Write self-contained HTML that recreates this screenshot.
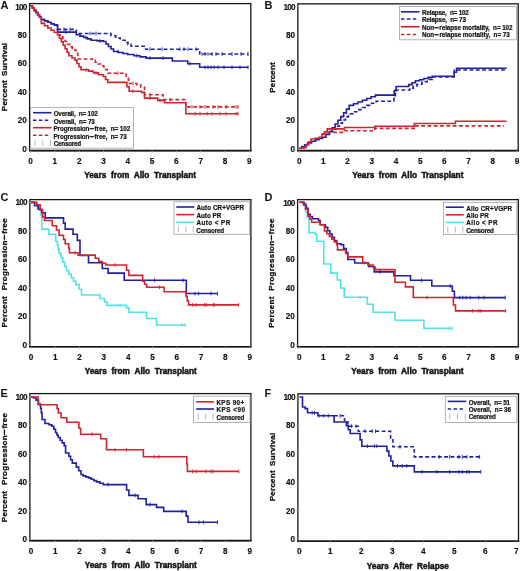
<!DOCTYPE html>
<html><head><meta charset="utf-8"><title>Figure</title>
<style>html,body{margin:0;padding:0;background:#fff;width:520px;height:571px;overflow:hidden}
body{position:relative;font-family:"Liberation Sans", sans-serif}
text{stroke:#111;stroke-width:0.45px}
text.lg{stroke-width:0.2px}
text.tk{stroke-width:0.15px}
text.let{stroke-width:0px}
text.yt{stroke-width:0.3px}</style></head>
<body>
<svg width="520" height="571" viewBox="0 0 520 571" style="position:absolute;left:0;top:0;will-change:transform" font-family="'Liberation Sans', sans-serif" fill="#111">
<rect x="29.6" y="3.6" width="221.20" height="147.00" fill="none" stroke="#161616" stroke-width="1.3"/>
<line x1="28.900000000000002" y1="150.6" x2="251.5" y2="150.6" stroke="#161616" stroke-width="1.6"/>
<text x="0.60" y="8.60" font-size="11" text-anchor="start" font-weight="bold" class="let">A</text>
<text x="26.60" y="151.50" font-size="8.2" text-anchor="end" font-weight="bold" letter-spacing="-0.1" class="tk">0</text>
<line x1="27.6" y1="148.6" x2="29.6" y2="148.6" stroke="#bbb" stroke-width="0.7"/>
<text x="26.60" y="123.10" font-size="8.2" text-anchor="end" font-weight="bold" letter-spacing="-0.1" class="tk">20</text>
<line x1="27.6" y1="120.2" x2="29.6" y2="120.2" stroke="#bbb" stroke-width="0.7"/>
<text x="26.60" y="94.70" font-size="8.2" text-anchor="end" font-weight="bold" letter-spacing="-0.1" class="tk">40</text>
<line x1="27.6" y1="91.8" x2="29.6" y2="91.8" stroke="#bbb" stroke-width="0.7"/>
<text x="26.60" y="66.30" font-size="8.2" text-anchor="end" font-weight="bold" letter-spacing="-0.1" class="tk">60</text>
<line x1="27.6" y1="63.4" x2="29.6" y2="63.4" stroke="#bbb" stroke-width="0.7"/>
<text x="26.60" y="37.90" font-size="8.2" text-anchor="end" font-weight="bold" letter-spacing="-0.1" class="tk">80</text>
<line x1="27.6" y1="35.0" x2="29.6" y2="35.0" stroke="#bbb" stroke-width="0.7"/>
<text x="26.60" y="9.50" font-size="8.2" text-anchor="end" font-weight="bold" letter-spacing="-0.75" class="tk">100</text>
<line x1="27.6" y1="6.6" x2="29.6" y2="6.6" stroke="#bbb" stroke-width="0.7"/>
<text x="30.60" y="163.70" font-size="8.2" text-anchor="middle" font-weight="bold" class="tk">0</text>
<line x1="30.6" y1="150.6" x2="30.6" y2="152.79999999999998" stroke="#bbb" stroke-width="0.7"/>
<text x="54.90" y="163.70" font-size="8.2" text-anchor="middle" font-weight="bold" class="tk">1</text>
<line x1="54.9" y1="150.6" x2="54.9" y2="152.79999999999998" stroke="#bbb" stroke-width="0.7"/>
<text x="79.20" y="163.70" font-size="8.2" text-anchor="middle" font-weight="bold" class="tk">2</text>
<line x1="79.2" y1="150.6" x2="79.2" y2="152.79999999999998" stroke="#bbb" stroke-width="0.7"/>
<text x="103.50" y="163.70" font-size="8.2" text-anchor="middle" font-weight="bold" class="tk">3</text>
<line x1="103.5" y1="150.6" x2="103.5" y2="152.79999999999998" stroke="#bbb" stroke-width="0.7"/>
<text x="127.80" y="163.70" font-size="8.2" text-anchor="middle" font-weight="bold" class="tk">4</text>
<line x1="127.8" y1="150.6" x2="127.8" y2="152.79999999999998" stroke="#bbb" stroke-width="0.7"/>
<text x="152.10" y="163.70" font-size="8.2" text-anchor="middle" font-weight="bold" class="tk">5</text>
<line x1="152.1" y1="150.6" x2="152.1" y2="152.79999999999998" stroke="#bbb" stroke-width="0.7"/>
<text x="176.40" y="163.70" font-size="8.2" text-anchor="middle" font-weight="bold" class="tk">6</text>
<line x1="176.4" y1="150.6" x2="176.4" y2="152.79999999999998" stroke="#bbb" stroke-width="0.7"/>
<text x="200.70" y="163.70" font-size="8.2" text-anchor="middle" font-weight="bold" class="tk">7</text>
<line x1="200.7" y1="150.6" x2="200.7" y2="152.79999999999998" stroke="#bbb" stroke-width="0.7"/>
<text x="225.00" y="163.70" font-size="8.2" text-anchor="middle" font-weight="bold" class="tk">8</text>
<line x1="225.0" y1="150.6" x2="225.0" y2="152.79999999999998" stroke="#bbb" stroke-width="0.7"/>
<text x="249.30" y="163.70" font-size="8.2" text-anchor="middle" font-weight="bold" class="tk">9</text>
<line x1="249.3" y1="150.6" x2="249.3" y2="152.79999999999998" stroke="#bbb" stroke-width="0.7"/>
<text x="84.16" y="178.30" font-size="8.3" font-weight="bold" word-spacing="2.36" letter-spacing="0.00" >Years from Allo Transplant</text>
<text x="-0.23" y="0.00" font-size="8.0" font-weight="bold" word-spacing="1.68" letter-spacing="0.26" class="yt" transform="translate(6.8,111.0) rotate(-90)">Percent Survival</text>
<rect x="297.85" y="3.85" width="220.35" height="146.75" fill="none" stroke="#161616" stroke-width="1.3"/>
<line x1="297.15000000000003" y1="150.6" x2="518.9000000000001" y2="150.6" stroke="#161616" stroke-width="1.6"/>
<text x="264.60" y="8.60" font-size="11" text-anchor="start" font-weight="bold" class="let">B</text>
<text x="294.85" y="151.50" font-size="8.2" text-anchor="end" font-weight="bold" letter-spacing="-0.1" class="tk">0</text>
<line x1="295.85" y1="148.6" x2="297.85" y2="148.6" stroke="#bbb" stroke-width="0.7"/>
<text x="294.85" y="123.10" font-size="8.2" text-anchor="end" font-weight="bold" letter-spacing="-0.1" class="tk">20</text>
<line x1="295.85" y1="120.2" x2="297.85" y2="120.2" stroke="#bbb" stroke-width="0.7"/>
<text x="294.85" y="94.70" font-size="8.2" text-anchor="end" font-weight="bold" letter-spacing="-0.1" class="tk">40</text>
<line x1="295.85" y1="91.8" x2="297.85" y2="91.8" stroke="#bbb" stroke-width="0.7"/>
<text x="294.85" y="66.30" font-size="8.2" text-anchor="end" font-weight="bold" letter-spacing="-0.1" class="tk">60</text>
<line x1="295.85" y1="63.4" x2="297.85" y2="63.4" stroke="#bbb" stroke-width="0.7"/>
<text x="294.85" y="37.90" font-size="8.2" text-anchor="end" font-weight="bold" letter-spacing="-0.1" class="tk">80</text>
<line x1="295.85" y1="35.0" x2="297.85" y2="35.0" stroke="#bbb" stroke-width="0.7"/>
<text x="294.85" y="9.50" font-size="8.2" text-anchor="end" font-weight="bold" letter-spacing="-0.75" class="tk">100</text>
<line x1="295.85" y1="6.6" x2="297.85" y2="6.6" stroke="#bbb" stroke-width="0.7"/>
<text x="299.20" y="163.70" font-size="8.2" text-anchor="middle" font-weight="bold" class="tk">0</text>
<line x1="299.2" y1="150.6" x2="299.2" y2="152.79999999999998" stroke="#bbb" stroke-width="0.7"/>
<text x="323.40" y="163.70" font-size="8.2" text-anchor="middle" font-weight="bold" class="tk">1</text>
<line x1="323.4" y1="150.6" x2="323.4" y2="152.79999999999998" stroke="#bbb" stroke-width="0.7"/>
<text x="347.60" y="163.70" font-size="8.2" text-anchor="middle" font-weight="bold" class="tk">2</text>
<line x1="347.6" y1="150.6" x2="347.6" y2="152.79999999999998" stroke="#bbb" stroke-width="0.7"/>
<text x="371.80" y="163.70" font-size="8.2" text-anchor="middle" font-weight="bold" class="tk">3</text>
<line x1="371.8" y1="150.6" x2="371.8" y2="152.79999999999998" stroke="#bbb" stroke-width="0.7"/>
<text x="396.00" y="163.70" font-size="8.2" text-anchor="middle" font-weight="bold" class="tk">4</text>
<line x1="396.0" y1="150.6" x2="396.0" y2="152.79999999999998" stroke="#bbb" stroke-width="0.7"/>
<text x="420.20" y="163.70" font-size="8.2" text-anchor="middle" font-weight="bold" class="tk">5</text>
<line x1="420.2" y1="150.6" x2="420.2" y2="152.79999999999998" stroke="#bbb" stroke-width="0.7"/>
<text x="444.40" y="163.70" font-size="8.2" text-anchor="middle" font-weight="bold" class="tk">6</text>
<line x1="444.4" y1="150.6" x2="444.4" y2="152.79999999999998" stroke="#bbb" stroke-width="0.7"/>
<text x="468.60" y="163.70" font-size="8.2" text-anchor="middle" font-weight="bold" class="tk">7</text>
<line x1="468.6" y1="150.6" x2="468.6" y2="152.79999999999998" stroke="#bbb" stroke-width="0.7"/>
<text x="492.80" y="163.70" font-size="8.2" text-anchor="middle" font-weight="bold" class="tk">8</text>
<line x1="492.8" y1="150.6" x2="492.8" y2="152.79999999999998" stroke="#bbb" stroke-width="0.7"/>
<text x="517.00" y="163.70" font-size="8.2" text-anchor="middle" font-weight="bold" class="tk">9</text>
<line x1="517.0" y1="150.6" x2="517.0" y2="152.79999999999998" stroke="#bbb" stroke-width="0.7"/>
<text x="352.16" y="178.30" font-size="8.3" font-weight="bold" word-spacing="2.16" letter-spacing="0.00" >Years from Allo Transplant</text>
<text x="-0.23" y="0.00" font-size="8.0" font-weight="bold" letter-spacing="0.18" class="yt" transform="translate(275.1,92.5) rotate(-90)">Percent</text>
<rect x="29.85" y="199.6" width="221.05" height="147.10" fill="none" stroke="#161616" stroke-width="1.3"/>
<line x1="29.150000000000002" y1="346.7" x2="251.6" y2="346.7" stroke="#161616" stroke-width="1.6"/>
<text x="0.60" y="201.20" font-size="11" text-anchor="start" font-weight="bold" class="let">C</text>
<text x="26.85" y="347.50" font-size="8.2" text-anchor="end" font-weight="bold" letter-spacing="-0.1" class="tk">0</text>
<line x1="27.85" y1="344.6" x2="29.85" y2="344.6" stroke="#bbb" stroke-width="0.7"/>
<text x="26.85" y="319.08" font-size="8.2" text-anchor="end" font-weight="bold" letter-spacing="-0.1" class="tk">20</text>
<line x1="27.85" y1="316.2" x2="29.85" y2="316.2" stroke="#bbb" stroke-width="0.7"/>
<text x="26.85" y="290.66" font-size="8.2" text-anchor="end" font-weight="bold" letter-spacing="-0.1" class="tk">40</text>
<line x1="27.85" y1="287.8" x2="29.85" y2="287.8" stroke="#bbb" stroke-width="0.7"/>
<text x="26.85" y="262.24" font-size="8.2" text-anchor="end" font-weight="bold" letter-spacing="-0.1" class="tk">60</text>
<line x1="27.85" y1="259.3" x2="29.85" y2="259.3" stroke="#bbb" stroke-width="0.7"/>
<text x="26.85" y="233.82" font-size="8.2" text-anchor="end" font-weight="bold" letter-spacing="-0.1" class="tk">80</text>
<line x1="27.85" y1="230.9" x2="29.85" y2="230.9" stroke="#bbb" stroke-width="0.7"/>
<text x="26.85" y="205.40" font-size="8.2" text-anchor="end" font-weight="bold" letter-spacing="-0.75" class="tk">100</text>
<line x1="27.85" y1="202.5" x2="29.85" y2="202.5" stroke="#bbb" stroke-width="0.7"/>
<text x="31.00" y="359.80" font-size="8.2" text-anchor="middle" font-weight="bold" class="tk">0</text>
<line x1="31.0" y1="346.7" x2="31.0" y2="348.9" stroke="#bbb" stroke-width="0.7"/>
<text x="55.30" y="359.80" font-size="8.2" text-anchor="middle" font-weight="bold" class="tk">1</text>
<line x1="55.3" y1="346.7" x2="55.3" y2="348.9" stroke="#bbb" stroke-width="0.7"/>
<text x="79.60" y="359.80" font-size="8.2" text-anchor="middle" font-weight="bold" class="tk">2</text>
<line x1="79.6" y1="346.7" x2="79.6" y2="348.9" stroke="#bbb" stroke-width="0.7"/>
<text x="103.90" y="359.80" font-size="8.2" text-anchor="middle" font-weight="bold" class="tk">3</text>
<line x1="103.9" y1="346.7" x2="103.9" y2="348.9" stroke="#bbb" stroke-width="0.7"/>
<text x="128.20" y="359.80" font-size="8.2" text-anchor="middle" font-weight="bold" class="tk">4</text>
<line x1="128.2" y1="346.7" x2="128.2" y2="348.9" stroke="#bbb" stroke-width="0.7"/>
<text x="152.50" y="359.80" font-size="8.2" text-anchor="middle" font-weight="bold" class="tk">5</text>
<line x1="152.5" y1="346.7" x2="152.5" y2="348.9" stroke="#bbb" stroke-width="0.7"/>
<text x="176.80" y="359.80" font-size="8.2" text-anchor="middle" font-weight="bold" class="tk">6</text>
<line x1="176.8" y1="346.7" x2="176.8" y2="348.9" stroke="#bbb" stroke-width="0.7"/>
<text x="201.10" y="359.80" font-size="8.2" text-anchor="middle" font-weight="bold" class="tk">7</text>
<line x1="201.1" y1="346.7" x2="201.1" y2="348.9" stroke="#bbb" stroke-width="0.7"/>
<text x="225.40" y="359.80" font-size="8.2" text-anchor="middle" font-weight="bold" class="tk">8</text>
<line x1="225.4" y1="346.7" x2="225.4" y2="348.9" stroke="#bbb" stroke-width="0.7"/>
<text x="249.70" y="359.80" font-size="8.2" text-anchor="middle" font-weight="bold" class="tk">9</text>
<line x1="249.7" y1="346.7" x2="249.7" y2="348.9" stroke="#bbb" stroke-width="0.7"/>
<text x="84.66" y="374.40" font-size="8.3" font-weight="bold" word-spacing="2.43" letter-spacing="0.00" >Years from Allo Transplant</text>
<text x="-0.23" y="0.00" font-size="8.0" font-weight="bold" word-spacing="3.09" letter-spacing="0.31" class="yt" transform="translate(7.0,327.2) rotate(-90)">Percent Progression<tspan letter-spacing="-3.27">−</tspan>−free</text>
<rect x="297.6" y="199.6" width="220.70" height="147.10" fill="none" stroke="#161616" stroke-width="1.3"/>
<line x1="296.90000000000003" y1="346.7" x2="519.0" y2="346.7" stroke="#161616" stroke-width="1.6"/>
<text x="264.60" y="201.40" font-size="11" text-anchor="start" font-weight="bold" class="let">D</text>
<text x="294.60" y="347.50" font-size="8.2" text-anchor="end" font-weight="bold" letter-spacing="-0.1" class="tk">0</text>
<line x1="295.6" y1="344.6" x2="297.6" y2="344.6" stroke="#bbb" stroke-width="0.7"/>
<text x="294.60" y="319.10" font-size="8.2" text-anchor="end" font-weight="bold" letter-spacing="-0.1" class="tk">20</text>
<line x1="295.6" y1="316.2" x2="297.6" y2="316.2" stroke="#bbb" stroke-width="0.7"/>
<text x="294.60" y="290.70" font-size="8.2" text-anchor="end" font-weight="bold" letter-spacing="-0.1" class="tk">40</text>
<line x1="295.6" y1="287.8" x2="297.6" y2="287.8" stroke="#bbb" stroke-width="0.7"/>
<text x="294.60" y="262.30" font-size="8.2" text-anchor="end" font-weight="bold" letter-spacing="-0.1" class="tk">60</text>
<line x1="295.6" y1="259.4" x2="297.6" y2="259.4" stroke="#bbb" stroke-width="0.7"/>
<text x="294.60" y="233.90" font-size="8.2" text-anchor="end" font-weight="bold" letter-spacing="-0.1" class="tk">80</text>
<line x1="295.6" y1="231.0" x2="297.6" y2="231.0" stroke="#bbb" stroke-width="0.7"/>
<text x="294.60" y="205.50" font-size="8.2" text-anchor="end" font-weight="bold" letter-spacing="-0.75" class="tk">100</text>
<line x1="295.6" y1="202.6" x2="297.6" y2="202.6" stroke="#bbb" stroke-width="0.7"/>
<text x="299.20" y="359.80" font-size="8.2" text-anchor="middle" font-weight="bold" class="tk">0</text>
<line x1="299.2" y1="346.7" x2="299.2" y2="348.9" stroke="#bbb" stroke-width="0.7"/>
<text x="323.40" y="359.80" font-size="8.2" text-anchor="middle" font-weight="bold" class="tk">1</text>
<line x1="323.4" y1="346.7" x2="323.4" y2="348.9" stroke="#bbb" stroke-width="0.7"/>
<text x="347.60" y="359.80" font-size="8.2" text-anchor="middle" font-weight="bold" class="tk">2</text>
<line x1="347.6" y1="346.7" x2="347.6" y2="348.9" stroke="#bbb" stroke-width="0.7"/>
<text x="371.80" y="359.80" font-size="8.2" text-anchor="middle" font-weight="bold" class="tk">3</text>
<line x1="371.8" y1="346.7" x2="371.8" y2="348.9" stroke="#bbb" stroke-width="0.7"/>
<text x="396.00" y="359.80" font-size="8.2" text-anchor="middle" font-weight="bold" class="tk">4</text>
<line x1="396.0" y1="346.7" x2="396.0" y2="348.9" stroke="#bbb" stroke-width="0.7"/>
<text x="420.20" y="359.80" font-size="8.2" text-anchor="middle" font-weight="bold" class="tk">5</text>
<line x1="420.2" y1="346.7" x2="420.2" y2="348.9" stroke="#bbb" stroke-width="0.7"/>
<text x="444.40" y="359.80" font-size="8.2" text-anchor="middle" font-weight="bold" class="tk">6</text>
<line x1="444.4" y1="346.7" x2="444.4" y2="348.9" stroke="#bbb" stroke-width="0.7"/>
<text x="468.60" y="359.80" font-size="8.2" text-anchor="middle" font-weight="bold" class="tk">7</text>
<line x1="468.6" y1="346.7" x2="468.6" y2="348.9" stroke="#bbb" stroke-width="0.7"/>
<text x="492.80" y="359.80" font-size="8.2" text-anchor="middle" font-weight="bold" class="tk">8</text>
<line x1="492.8" y1="346.7" x2="492.8" y2="348.9" stroke="#bbb" stroke-width="0.7"/>
<text x="517.00" y="359.80" font-size="8.2" text-anchor="middle" font-weight="bold" class="tk">9</text>
<line x1="517.0" y1="346.7" x2="517.0" y2="348.9" stroke="#bbb" stroke-width="0.7"/>
<text x="351.36" y="374.40" font-size="8.3" font-weight="bold" word-spacing="2.43" letter-spacing="0.00" >Years from Allo Transplant</text>
<text x="-0.23" y="0.00" font-size="8.0" font-weight="bold" word-spacing="3.09" letter-spacing="0.31" class="yt" transform="translate(274.2,327.6) rotate(-90)">Percent Progression<tspan letter-spacing="-3.27">−</tspan>−free</text>
<rect x="29.9" y="393.6" width="221.00" height="147.05" fill="none" stroke="#161616" stroke-width="1.3"/>
<line x1="29.2" y1="540.65" x2="251.6" y2="540.65" stroke="#161616" stroke-width="1.6"/>
<text x="0.60" y="396.60" font-size="11" text-anchor="start" font-weight="bold" class="let">E</text>
<text x="26.90" y="542.10" font-size="8.2" text-anchor="end" font-weight="bold" letter-spacing="-0.1" class="tk">0</text>
<line x1="27.9" y1="539.2" x2="29.9" y2="539.2" stroke="#bbb" stroke-width="0.7"/>
<text x="26.90" y="513.66" font-size="8.2" text-anchor="end" font-weight="bold" letter-spacing="-0.1" class="tk">20</text>
<line x1="27.9" y1="510.8" x2="29.9" y2="510.8" stroke="#bbb" stroke-width="0.7"/>
<text x="26.90" y="485.22" font-size="8.2" text-anchor="end" font-weight="bold" letter-spacing="-0.1" class="tk">40</text>
<line x1="27.9" y1="482.3" x2="29.9" y2="482.3" stroke="#bbb" stroke-width="0.7"/>
<text x="26.90" y="456.78" font-size="8.2" text-anchor="end" font-weight="bold" letter-spacing="-0.1" class="tk">60</text>
<line x1="27.9" y1="453.9" x2="29.9" y2="453.9" stroke="#bbb" stroke-width="0.7"/>
<text x="26.90" y="428.34" font-size="8.2" text-anchor="end" font-weight="bold" letter-spacing="-0.1" class="tk">80</text>
<line x1="27.9" y1="425.4" x2="29.9" y2="425.4" stroke="#bbb" stroke-width="0.7"/>
<text x="26.90" y="399.90" font-size="8.2" text-anchor="end" font-weight="bold" letter-spacing="-0.75" class="tk">100</text>
<line x1="27.9" y1="397.0" x2="29.9" y2="397.0" stroke="#bbb" stroke-width="0.7"/>
<text x="31.00" y="553.75" font-size="8.2" text-anchor="middle" font-weight="bold" class="tk">0</text>
<line x1="31.0" y1="540.65" x2="31.0" y2="542.85" stroke="#bbb" stroke-width="0.7"/>
<text x="55.30" y="553.75" font-size="8.2" text-anchor="middle" font-weight="bold" class="tk">1</text>
<line x1="55.3" y1="540.65" x2="55.3" y2="542.85" stroke="#bbb" stroke-width="0.7"/>
<text x="79.60" y="553.75" font-size="8.2" text-anchor="middle" font-weight="bold" class="tk">2</text>
<line x1="79.6" y1="540.65" x2="79.6" y2="542.85" stroke="#bbb" stroke-width="0.7"/>
<text x="103.90" y="553.75" font-size="8.2" text-anchor="middle" font-weight="bold" class="tk">3</text>
<line x1="103.9" y1="540.65" x2="103.9" y2="542.85" stroke="#bbb" stroke-width="0.7"/>
<text x="128.20" y="553.75" font-size="8.2" text-anchor="middle" font-weight="bold" class="tk">4</text>
<line x1="128.2" y1="540.65" x2="128.2" y2="542.85" stroke="#bbb" stroke-width="0.7"/>
<text x="152.50" y="553.75" font-size="8.2" text-anchor="middle" font-weight="bold" class="tk">5</text>
<line x1="152.5" y1="540.65" x2="152.5" y2="542.85" stroke="#bbb" stroke-width="0.7"/>
<text x="176.80" y="553.75" font-size="8.2" text-anchor="middle" font-weight="bold" class="tk">6</text>
<line x1="176.8" y1="540.65" x2="176.8" y2="542.85" stroke="#bbb" stroke-width="0.7"/>
<text x="201.10" y="553.75" font-size="8.2" text-anchor="middle" font-weight="bold" class="tk">7</text>
<line x1="201.1" y1="540.65" x2="201.1" y2="542.85" stroke="#bbb" stroke-width="0.7"/>
<text x="225.40" y="553.75" font-size="8.2" text-anchor="middle" font-weight="bold" class="tk">8</text>
<line x1="225.4" y1="540.65" x2="225.4" y2="542.85" stroke="#bbb" stroke-width="0.7"/>
<text x="249.70" y="553.75" font-size="8.2" text-anchor="middle" font-weight="bold" class="tk">9</text>
<line x1="249.7" y1="540.65" x2="249.7" y2="542.85" stroke="#bbb" stroke-width="0.7"/>
<text x="84.66" y="568.35" font-size="8.3" font-weight="bold" word-spacing="2.43" letter-spacing="0.00" >Years from Allo Transplant</text>
<text x="-0.23" y="0.00" font-size="8.0" font-weight="bold" word-spacing="3.09" letter-spacing="0.31" class="yt" transform="translate(7.0,522.0) rotate(-90)">Percent Progression<tspan letter-spacing="-3.27">−</tspan>−free</text>
<rect x="297.9" y="393.8" width="220.60" height="147.40" fill="none" stroke="#161616" stroke-width="1.3"/>
<line x1="297.2" y1="541.2" x2="519.2" y2="541.2" stroke="#161616" stroke-width="1.6"/>
<text x="264.60" y="396.60" font-size="11" text-anchor="start" font-weight="bold" class="let">F</text>
<text x="294.90" y="542.10" font-size="8.2" text-anchor="end" font-weight="bold" letter-spacing="-0.1" class="tk">0</text>
<line x1="295.9" y1="539.2" x2="297.9" y2="539.2" stroke="#bbb" stroke-width="0.7"/>
<text x="294.90" y="513.66" font-size="8.2" text-anchor="end" font-weight="bold" letter-spacing="-0.1" class="tk">20</text>
<line x1="295.9" y1="510.8" x2="297.9" y2="510.8" stroke="#bbb" stroke-width="0.7"/>
<text x="294.90" y="485.22" font-size="8.2" text-anchor="end" font-weight="bold" letter-spacing="-0.1" class="tk">40</text>
<line x1="295.9" y1="482.3" x2="297.9" y2="482.3" stroke="#bbb" stroke-width="0.7"/>
<text x="294.90" y="456.78" font-size="8.2" text-anchor="end" font-weight="bold" letter-spacing="-0.1" class="tk">60</text>
<line x1="295.9" y1="453.9" x2="297.9" y2="453.9" stroke="#bbb" stroke-width="0.7"/>
<text x="294.90" y="428.34" font-size="8.2" text-anchor="end" font-weight="bold" letter-spacing="-0.1" class="tk">80</text>
<line x1="295.9" y1="425.4" x2="297.9" y2="425.4" stroke="#bbb" stroke-width="0.7"/>
<text x="294.90" y="399.90" font-size="8.2" text-anchor="end" font-weight="bold" letter-spacing="-0.75" class="tk">100</text>
<line x1="295.9" y1="397.0" x2="297.9" y2="397.0" stroke="#bbb" stroke-width="0.7"/>
<text x="299.40" y="554.30" font-size="8.2" text-anchor="middle" font-weight="bold" class="tk">0</text>
<line x1="299.4" y1="541.2" x2="299.4" y2="543.4000000000001" stroke="#bbb" stroke-width="0.7"/>
<text x="330.40" y="554.30" font-size="8.2" text-anchor="middle" font-weight="bold" class="tk">1</text>
<line x1="330.4" y1="541.2" x2="330.4" y2="543.4000000000001" stroke="#bbb" stroke-width="0.7"/>
<text x="361.40" y="554.30" font-size="8.2" text-anchor="middle" font-weight="bold" class="tk">2</text>
<line x1="361.4" y1="541.2" x2="361.4" y2="543.4000000000001" stroke="#bbb" stroke-width="0.7"/>
<text x="392.40" y="554.30" font-size="8.2" text-anchor="middle" font-weight="bold" class="tk">3</text>
<line x1="392.4" y1="541.2" x2="392.4" y2="543.4000000000001" stroke="#bbb" stroke-width="0.7"/>
<text x="423.40" y="554.30" font-size="8.2" text-anchor="middle" font-weight="bold" class="tk">4</text>
<line x1="423.4" y1="541.2" x2="423.4" y2="543.4000000000001" stroke="#bbb" stroke-width="0.7"/>
<text x="454.40" y="554.30" font-size="8.2" text-anchor="middle" font-weight="bold" class="tk">5</text>
<line x1="454.4" y1="541.2" x2="454.4" y2="543.4000000000001" stroke="#bbb" stroke-width="0.7"/>
<text x="485.40" y="554.30" font-size="8.2" text-anchor="middle" font-weight="bold" class="tk">6</text>
<line x1="485.4" y1="541.2" x2="485.4" y2="543.4000000000001" stroke="#bbb" stroke-width="0.7"/>
<text x="516.40" y="554.30" font-size="8.2" text-anchor="middle" font-weight="bold" class="tk">7</text>
<line x1="516.4" y1="541.2" x2="516.4" y2="543.4000000000001" stroke="#bbb" stroke-width="0.7"/>
<text x="366.76" y="568.90" font-size="8.3" font-weight="bold" word-spacing="2.28" letter-spacing="0.00" >Years After Relapse</text>
<text x="-0.23" y="0.00" font-size="8.0" font-weight="bold" word-spacing="1.71" letter-spacing="0.27" class="yt" transform="translate(274.5,501.1) rotate(-90)">Percent Survival</text>
<path d="M30.6,5.8H32.4V8.1H34.2V10.4H36.0V12.6H37.7V14.9H39.5V17.2H41.3V19.5H44.5V20.9H47.8V22.3H51.0V23.7H54.3V25.1H57.5V26.5V29.4H76.3V33.5H106.3H111.0V35.8H115.7V38.0H120.3V40.2H125.0V42.5H128.0V44.4H131.0V46.3H145.6V49.2H199.7V54.0H248.3" fill="none" stroke="#2020a0" stroke-width="1.6" stroke-dasharray="3.8,2.5"/>
<path d="M30.6,5.8H32.4V8.1H34.2V10.4H36.0V12.6H37.7V14.9H39.5V17.2H41.3V19.5H44.5V20.9H47.8V22.3H51.0V23.7H54.3V25.1H57.5V26.5V32.1H76.3V34.8H80.0V36.1H83.7V37.5H87.4V38.9H91.1V40.2H97.2V40.9H103.3V41.5H105.9V44.0H108.4V46.5H111.0V49.0H113.6V51.5H118.3V52.5H123.0V53.5H127.7V54.5H133.9V55.7H140.0V56.9H146.2V58.1H172.3V61.0H187.7V63.7H199.7V67.3H248.3" fill="none" stroke="#2020a0" stroke-width="1.6"/>
<path d="M57.5,34.8H60.2V36.8H62.9V38.8H65.1V41.5H67.4V44.2H69.6V46.9H72.3V48.7H75.0V50.5H77.7V52.3V59.0H88.5H92.5V60.4H95.2V62.2H97.9V64.0H100.6V65.8H103.9V69.5H107.3V73.2H123.8H126.2V78.3H128.5V83.5H136.9V85.0H140.8V87.3H144.6V89.6V94.7H163.1V99.6H185.8V106.9H238.2" fill="none" stroke="#d02430" stroke-width="1.6" stroke-dasharray="3.8,2.5"/>
<path d="M30.6,5.8H32.4V8.1H34.2V10.4H36.0V12.6H37.7V14.9H39.5V17.2H41.3V19.5V23.4H44.5V25.7H47.8V28.0H51.0V30.2H54.3V32.5H57.5V34.8H59.4V38.3H61.3V41.8H63.2V45.2H65.1V48.7H67.0V52.2H68.9V55.7H72.0V58.0H75.0V60.4H77.0V63.5H79.0V66.7H81.0V69.8H88.5V71.1H93.4V72.9H98.4V74.7H103.3V76.5H105.5V79.5H107.7V82.4H124.6H126.9V86.8H129.2V91.2H141.5V92.4H144.5V98.1H157.7V100.4H164.6V102.7H185.8V113.7H238.2" fill="none" stroke="#d02430" stroke-width="1.6"/>
<path d="M329.5,131.5H332.9V128.9H336.4V126.3H339.4V123.2H342.4V120.0H345.5V116.9H348.5V113.8H353.1V111.7H357.7V109.6H362.4V107.5H367.0V105.4H371.6V103.3H376.2V101.2H392.3H393.9V95.6H395.4V90.0H406.2H409.8V88.1H413.3V86.2H416.9V84.3H422.0V81.8H427.2V79.4H432.3V76.9H454.2V70.0H506.6" fill="none" stroke="#2020a0" stroke-width="1.6" stroke-dasharray="3.8,2.5"/>
<path d="M299.0,148.3H301.8V146.5H304.7V144.8H307.5V143.0H311.6V141.3H315.6V139.6H319.1V138.4H322.5V137.3H326.0V134.4H329.5V131.5H332.3V127.8H335.1V124.0H337.9V120.3H340.8V116.6H343.6V112.9H346.4V109.1H349.2V105.4H353.6V103.7H357.9V102.0H362.3V100.2H366.7V98.5H371.0V96.8H375.4V95.1H392.3H394.2V90.8H396.2V86.5H405.4H408.7V84.6H412.1V82.7H415.4V80.8H419.6V79.7H423.9V78.5H428.1V77.3H432.3V76.2H454.2V72.3H456.5V68.2H506.6" fill="none" stroke="#2020a0" stroke-width="1.6"/>
<path d="M322.0,133.8H327.2V132.4H344.5V130.7H374.8V128.4H414.3V125.9H503.9" fill="none" stroke="#d02430" stroke-width="1.6" stroke-dasharray="3.8,2.5"/>
<path d="M299.0,148.3H304.1V147.5H306.4V144.7H308.7V141.8H311.0V139.0H315.1V138.2H319.1V137.3H321.8V134.5H324.5V131.7H327.2V128.9H344.5V127.5H374.8V126.2H414.3V123.5H455.4V121.2H506.6" fill="none" stroke="#d02430" stroke-width="1.6"/>
<path d="M31.0,202.4H34.9V203.2H37.5V208.4H41.0V215.3H41.8V229.1H48.8V234.3H55.7V241.3H57.4V244.7H58.2V249.1H59.1V253.4H61.0V257.8H62.8V262.1H64.7V266.4H66.5V270.8H68.8V274.2H71.2V277.7H73.5V281.1H75.8V284.6H79.2V289.2H81.5V295.0H100.0V298.5H104.6V301.9H106.9V305.4H126.5V307.7H128.9V312.3H146.5V318.5H156.5V325.0H185.7" fill="none" stroke="#55e2e2" stroke-width="1.6"/>
<path d="M31.0,202.4H34.6V205.8H38.2V209.3H41.8V212.7H45.3V217.9H63.5V223.1H65.2V229.1H73.0V234.3H77.3V240.4H80.0V255.5H88.5V262.7H102.3V268.5H108.1V273.1H124.2V280.2H186.3V293.5H217.5" fill="none" stroke="#2020a0" stroke-width="1.6"/>
<path d="M31.0,202.4H36.7V204.9H40.1V210.1H42.7V217.0H44.4V220.5H52.2V225.7H56.5V230.0H59.1V235.2H63.5V239.5H65.2V243.8H68.7V248.2H69.5V252.8H78.1V255.1H91.9H95.3V258.3H98.8V261.5H102.3V263.2H105.8V265.0H124.2H126.6V270.2H128.9V275.4H138.1H142.7V281.2H144.6V284.2H146.5V287.3H164.2V291.8H186.0V296.3H187.2V300.6H188.5V304.9H238.6" fill="none" stroke="#d02430" stroke-width="1.6"/>
<path d="M299.5,202.3H304.0V205.0H305.5V211.8H307.2V217.0H309.0V232.6H315.0V234.3H316.8V241.3H323.8V264.0H330.8V273.1H337.3V280.0H340.8V288.1H344.2V297.3H367.3V304.2H373.1V312.3H395.0V320.3H423.9V328.4H452.3" fill="none" stroke="#55e2e2" stroke-width="1.6"/>
<path d="M299.5,202.3H303.8V205.0H306.4V208.4H308.1V214.4H310.2V216.6H312.4V218.8H318.5V220.5H320.2V224.8H325.4V227.4H327.7V230.7H329.9V234.0H332.2V237.2H334.4V240.5H336.7V243.8H341.0V244.7H343.6V248.6H346.2V252.5H347.8V259.5H354.7V263.0H368.6V266.5H374.2V271.9H391.5H393.9V275.8H410.5V280.3H431.8V286.0H452.3V291.3H454.4V297.6H505.2" fill="none" stroke="#2020a0" stroke-width="1.6"/>
<path d="M299.5,202.3H302.9V203.2H305.5V209.2H308.1V216.2H309.9V219.2H311.6V222.2H320.2V224.8H324.5V230.9H326.9V233.7H329.4V236.4H331.8V239.2H334.3V241.9H336.7V244.7H337.5V249.9H343.6H345.6V253.4H347.7V256.9H359.5H362.7V262.7H367.9V265.0H373.1V267.3H375.4V269.6H392.7H395.0V282.3H405.4V286.9H413.3V297.5H453.4V305.0H455.5V310.9H505.6" fill="none" stroke="#d02430" stroke-width="1.6"/>
<path d="M31.0,397.0H33.7V398.0H36.1V400.1H38.5V404.1H40.5V408.2H41.3V413.0H42.1V419.5H45.0V423.5H49.0V424.7H51.8V426.3H53.8V429.2H55.5V432.5H56.9V435.0H58.2V437.5H60.2V440.2H62.2V442.9H64.2V445.6H65.6V453.0H68.9V456.3H70.6V459.7H72.3V463.1H76.3V467.1H78.7V470.8H81.0V474.5H83.1V475.9H85.8V476.9H88.5V477.9H91.2V479.2H93.8V480.6H96.5V481.9H99.9V483.2H103.3V484.6H124.2H126.6V490.0H128.9V495.4H138.1V498.8H146.2V504.6H156.5V507.4H163.7V511.4H186.2V516.1H188.0V522.3H217.5" fill="none" stroke="#2020a0" stroke-width="1.6"/>
<path d="M31.0,397.0H38.1V404.8H57.1V408.6H58.3V413.0H61.1V417.8H66.8V422.3H77.3H78.9V428.2H80.6V434.2H100.7V438.7H106.5V449.7H143.4V456.7H186.2H186.8V464.0H187.4V471.4H238.8" fill="none" stroke="#d02430" stroke-width="1.6"/>
<path d="M334.1,415.8H344.5V420.8H347.9V426.2H358.3V431.2H388.3H390.6V438.9H392.9V446.7H414.3V456.9H480.8" fill="none" stroke="#2020a0" stroke-width="1.6" stroke-dasharray="3.8,2.5"/>
<path d="M299.4,397.0H300.6H302.5V407.0H305.2V408.6H307.5V412.8H317.9V415.8H334.1V422.0H344.5H346.4V425.8H348.3V429.7H350.2V433.5H358.3H360.1V439.9H361.8V446.2H384.9H386.9V451.1H388.9V456.0H390.9V461.0H392.9V465.9H414.3V471.9H480.8" fill="none" stroke="#2020a0" stroke-width="1.6"/>
<line x1="66.0" y1="30.2" x2="66.0" y2="34.0" stroke="#2020a0" stroke-width="0.9"/>
<line x1="86.0" y1="35.6" x2="86.0" y2="39.4" stroke="#2020a0" stroke-width="0.9"/>
<line x1="100.0" y1="39.0" x2="100.0" y2="42.8" stroke="#2020a0" stroke-width="0.9"/>
<line x1="118.0" y1="49.6" x2="118.0" y2="53.4" stroke="#2020a0" stroke-width="0.9"/>
<line x1="137.0" y1="53.8" x2="137.0" y2="57.6" stroke="#2020a0" stroke-width="0.9"/>
<line x1="150.0" y1="56.2" x2="150.0" y2="60.0" stroke="#2020a0" stroke-width="0.9"/>
<line x1="163.0" y1="56.2" x2="163.0" y2="60.0" stroke="#2020a0" stroke-width="0.9"/>
<line x1="190.0" y1="61.8" x2="190.0" y2="65.6" stroke="#2020a0" stroke-width="0.9"/>
<line x1="205.0" y1="65.4" x2="205.0" y2="69.2" stroke="#2020a0" stroke-width="0.9"/>
<line x1="208.0" y1="65.4" x2="208.0" y2="69.2" stroke="#2020a0" stroke-width="0.9"/>
<line x1="211.0" y1="65.4" x2="211.0" y2="69.2" stroke="#2020a0" stroke-width="0.9"/>
<line x1="214.0" y1="65.4" x2="214.0" y2="69.2" stroke="#2020a0" stroke-width="0.9"/>
<line x1="218.0" y1="65.4" x2="218.0" y2="69.2" stroke="#2020a0" stroke-width="0.9"/>
<line x1="224.0" y1="65.4" x2="224.0" y2="69.2" stroke="#2020a0" stroke-width="0.9"/>
<line x1="232.0" y1="65.4" x2="232.0" y2="69.2" stroke="#2020a0" stroke-width="0.9"/>
<line x1="240.0" y1="65.4" x2="240.0" y2="69.2" stroke="#2020a0" stroke-width="0.9"/>
<line x1="248.0" y1="65.4" x2="248.0" y2="69.2" stroke="#2020a0" stroke-width="0.9"/>
<line x1="64.0" y1="27.5" x2="64.0" y2="31.3" stroke="#2020a0" stroke-width="0.9"/>
<line x1="70.0" y1="27.5" x2="70.0" y2="31.3" stroke="#2020a0" stroke-width="0.9"/>
<line x1="90.0" y1="31.6" x2="90.0" y2="35.4" stroke="#2020a0" stroke-width="0.9"/>
<line x1="96.0" y1="31.6" x2="96.0" y2="35.4" stroke="#2020a0" stroke-width="0.9"/>
<line x1="150.0" y1="47.3" x2="150.0" y2="51.1" stroke="#2020a0" stroke-width="0.9"/>
<line x1="162.0" y1="47.3" x2="162.0" y2="51.1" stroke="#2020a0" stroke-width="0.9"/>
<line x1="180.0" y1="47.3" x2="180.0" y2="51.1" stroke="#2020a0" stroke-width="0.9"/>
<line x1="184.0" y1="47.3" x2="184.0" y2="51.1" stroke="#2020a0" stroke-width="0.9"/>
<line x1="188.0" y1="47.3" x2="188.0" y2="51.1" stroke="#2020a0" stroke-width="0.9"/>
<line x1="196.0" y1="47.3" x2="196.0" y2="51.1" stroke="#2020a0" stroke-width="0.9"/>
<line x1="202.0" y1="52.1" x2="202.0" y2="55.9" stroke="#2020a0" stroke-width="0.9"/>
<line x1="205.0" y1="52.1" x2="205.0" y2="55.9" stroke="#2020a0" stroke-width="0.9"/>
<line x1="208.0" y1="52.1" x2="208.0" y2="55.9" stroke="#2020a0" stroke-width="0.9"/>
<line x1="212.0" y1="52.1" x2="212.0" y2="55.9" stroke="#2020a0" stroke-width="0.9"/>
<line x1="216.0" y1="52.1" x2="216.0" y2="55.9" stroke="#2020a0" stroke-width="0.9"/>
<line x1="222.0" y1="52.1" x2="222.0" y2="55.9" stroke="#2020a0" stroke-width="0.9"/>
<line x1="232.0" y1="52.1" x2="232.0" y2="55.9" stroke="#2020a0" stroke-width="0.9"/>
<line x1="241.0" y1="52.1" x2="241.0" y2="55.9" stroke="#2020a0" stroke-width="0.9"/>
<line x1="248.0" y1="52.1" x2="248.0" y2="55.9" stroke="#2020a0" stroke-width="0.9"/>
<line x1="86.0" y1="67.9" x2="86.0" y2="71.7" stroke="#d02430" stroke-width="0.9"/>
<line x1="96.0" y1="71.0" x2="96.0" y2="74.8" stroke="#d02430" stroke-width="0.9"/>
<line x1="133.0" y1="89.3" x2="133.0" y2="93.1" stroke="#d02430" stroke-width="0.9"/>
<line x1="150.0" y1="96.2" x2="150.0" y2="100.0" stroke="#d02430" stroke-width="0.9"/>
<line x1="160.0" y1="98.5" x2="160.0" y2="102.3" stroke="#d02430" stroke-width="0.9"/>
<line x1="195.0" y1="111.8" x2="195.0" y2="115.6" stroke="#d02430" stroke-width="0.9"/>
<line x1="200.0" y1="111.8" x2="200.0" y2="115.6" stroke="#d02430" stroke-width="0.9"/>
<line x1="207.0" y1="111.8" x2="207.0" y2="115.6" stroke="#d02430" stroke-width="0.9"/>
<line x1="212.0" y1="111.8" x2="212.0" y2="115.6" stroke="#d02430" stroke-width="0.9"/>
<line x1="220.0" y1="111.8" x2="220.0" y2="115.6" stroke="#d02430" stroke-width="0.9"/>
<line x1="226.0" y1="111.8" x2="226.0" y2="115.6" stroke="#d02430" stroke-width="0.9"/>
<line x1="236.0" y1="111.8" x2="236.0" y2="115.6" stroke="#d02430" stroke-width="0.9"/>
<line x1="238.0" y1="111.8" x2="238.0" y2="115.6" stroke="#d02430" stroke-width="0.9"/>
<line x1="118.0" y1="71.3" x2="118.0" y2="75.1" stroke="#d02430" stroke-width="0.9"/>
<line x1="133.0" y1="81.6" x2="133.0" y2="85.4" stroke="#d02430" stroke-width="0.9"/>
<line x1="150.0" y1="92.8" x2="150.0" y2="96.6" stroke="#d02430" stroke-width="0.9"/>
<line x1="170.0" y1="97.7" x2="170.0" y2="101.5" stroke="#d02430" stroke-width="0.9"/>
<line x1="192.0" y1="105.0" x2="192.0" y2="108.8" stroke="#d02430" stroke-width="0.9"/>
<line x1="200.0" y1="105.0" x2="200.0" y2="108.8" stroke="#d02430" stroke-width="0.9"/>
<line x1="205.0" y1="105.0" x2="205.0" y2="108.8" stroke="#d02430" stroke-width="0.9"/>
<line x1="213.0" y1="105.0" x2="213.0" y2="108.8" stroke="#d02430" stroke-width="0.9"/>
<line x1="218.0" y1="105.0" x2="218.0" y2="108.8" stroke="#d02430" stroke-width="0.9"/>
<line x1="226.0" y1="105.0" x2="226.0" y2="108.8" stroke="#d02430" stroke-width="0.9"/>
<line x1="236.0" y1="105.0" x2="236.0" y2="108.8" stroke="#d02430" stroke-width="0.9"/>
<line x1="238.0" y1="105.0" x2="238.0" y2="108.8" stroke="#d02430" stroke-width="0.9"/>
<line x1="154.6" y1="278.3" x2="154.6" y2="282.1" stroke="#2020a0" stroke-width="0.9"/>
<line x1="183.0" y1="278.3" x2="183.0" y2="282.1" stroke="#2020a0" stroke-width="0.9"/>
<line x1="195.0" y1="291.6" x2="195.0" y2="295.4" stroke="#2020a0" stroke-width="0.9"/>
<line x1="198.6" y1="291.6" x2="198.6" y2="295.4" stroke="#2020a0" stroke-width="0.9"/>
<line x1="211.0" y1="291.6" x2="211.0" y2="295.4" stroke="#2020a0" stroke-width="0.9"/>
<line x1="217.5" y1="291.6" x2="217.5" y2="295.4" stroke="#2020a0" stroke-width="0.9"/>
<line x1="75.0" y1="250.9" x2="75.0" y2="254.7" stroke="#d02430" stroke-width="0.9"/>
<line x1="115.0" y1="263.1" x2="115.0" y2="266.9" stroke="#d02430" stroke-width="0.9"/>
<line x1="159.4" y1="285.4" x2="159.4" y2="289.2" stroke="#d02430" stroke-width="0.9"/>
<line x1="192.8" y1="303.0" x2="192.8" y2="306.8" stroke="#d02430" stroke-width="0.9"/>
<line x1="196.4" y1="303.0" x2="196.4" y2="306.8" stroke="#d02430" stroke-width="0.9"/>
<line x1="204.6" y1="303.0" x2="204.6" y2="306.8" stroke="#d02430" stroke-width="0.9"/>
<line x1="206.3" y1="303.0" x2="206.3" y2="306.8" stroke="#d02430" stroke-width="0.9"/>
<line x1="213.2" y1="303.0" x2="213.2" y2="306.8" stroke="#d02430" stroke-width="0.9"/>
<line x1="214.3" y1="303.0" x2="214.3" y2="306.8" stroke="#d02430" stroke-width="0.9"/>
<line x1="238.6" y1="303.0" x2="238.6" y2="306.8" stroke="#d02430" stroke-width="0.9"/>
<line x1="120.0" y1="303.5" x2="120.0" y2="307.3" stroke="#55e2e2" stroke-width="0.9"/>
<line x1="182.0" y1="323.1" x2="182.0" y2="326.9" stroke="#55e2e2" stroke-width="0.9"/>
<line x1="185.2" y1="323.1" x2="185.2" y2="326.9" stroke="#55e2e2" stroke-width="0.9"/>
<line x1="380.0" y1="270.0" x2="380.0" y2="273.8" stroke="#2020a0" stroke-width="0.9"/>
<line x1="421.6" y1="278.4" x2="421.6" y2="282.2" stroke="#2020a0" stroke-width="0.9"/>
<line x1="450.2" y1="284.1" x2="450.2" y2="287.9" stroke="#2020a0" stroke-width="0.9"/>
<line x1="459.7" y1="295.7" x2="459.7" y2="299.5" stroke="#2020a0" stroke-width="0.9"/>
<line x1="462.9" y1="295.7" x2="462.9" y2="299.5" stroke="#2020a0" stroke-width="0.9"/>
<line x1="466.1" y1="295.7" x2="466.1" y2="299.5" stroke="#2020a0" stroke-width="0.9"/>
<line x1="470.3" y1="295.7" x2="470.3" y2="299.5" stroke="#2020a0" stroke-width="0.9"/>
<line x1="478.8" y1="295.7" x2="478.8" y2="299.5" stroke="#2020a0" stroke-width="0.9"/>
<line x1="484.0" y1="295.7" x2="484.0" y2="299.5" stroke="#2020a0" stroke-width="0.9"/>
<line x1="505.2" y1="295.7" x2="505.2" y2="299.5" stroke="#2020a0" stroke-width="0.9"/>
<line x1="365.0" y1="260.8" x2="365.0" y2="264.6" stroke="#d02430" stroke-width="0.9"/>
<line x1="426.9" y1="295.6" x2="426.9" y2="299.4" stroke="#d02430" stroke-width="0.9"/>
<line x1="472.4" y1="309.0" x2="472.4" y2="312.8" stroke="#d02430" stroke-width="0.9"/>
<line x1="478.8" y1="309.0" x2="478.8" y2="312.8" stroke="#d02430" stroke-width="0.9"/>
<line x1="480.9" y1="309.0" x2="480.9" y2="312.8" stroke="#d02430" stroke-width="0.9"/>
<line x1="505.6" y1="309.0" x2="505.6" y2="312.8" stroke="#d02430" stroke-width="0.9"/>
<line x1="360.0" y1="295.4" x2="360.0" y2="299.2" stroke="#55e2e2" stroke-width="0.9"/>
<line x1="449.1" y1="326.5" x2="449.1" y2="330.3" stroke="#55e2e2" stroke-width="0.9"/>
<line x1="452.3" y1="326.5" x2="452.3" y2="330.3" stroke="#55e2e2" stroke-width="0.9"/>
<line x1="92.0" y1="432.3" x2="92.0" y2="436.1" stroke="#d02430" stroke-width="0.9"/>
<line x1="115.0" y1="447.8" x2="115.0" y2="451.6" stroke="#d02430" stroke-width="0.9"/>
<line x1="126.5" y1="447.8" x2="126.5" y2="451.6" stroke="#d02430" stroke-width="0.9"/>
<line x1="154.2" y1="454.8" x2="154.2" y2="458.6" stroke="#d02430" stroke-width="0.9"/>
<line x1="158.9" y1="454.8" x2="158.9" y2="458.6" stroke="#d02430" stroke-width="0.9"/>
<line x1="192.7" y1="469.5" x2="192.7" y2="473.3" stroke="#d02430" stroke-width="0.9"/>
<line x1="196.3" y1="469.5" x2="196.3" y2="473.3" stroke="#d02430" stroke-width="0.9"/>
<line x1="206.0" y1="469.5" x2="206.0" y2="473.3" stroke="#d02430" stroke-width="0.9"/>
<line x1="211.3" y1="469.5" x2="211.3" y2="473.3" stroke="#d02430" stroke-width="0.9"/>
<line x1="213.1" y1="469.5" x2="213.1" y2="473.3" stroke="#d02430" stroke-width="0.9"/>
<line x1="238.8" y1="469.5" x2="238.8" y2="473.3" stroke="#d02430" stroke-width="0.9"/>
<line x1="108.1" y1="482.7" x2="108.1" y2="486.5" stroke="#2020a0" stroke-width="0.9"/>
<line x1="135.0" y1="493.5" x2="135.0" y2="497.3" stroke="#2020a0" stroke-width="0.9"/>
<line x1="150.0" y1="502.7" x2="150.0" y2="506.5" stroke="#2020a0" stroke-width="0.9"/>
<line x1="182.1" y1="509.5" x2="182.1" y2="513.3" stroke="#2020a0" stroke-width="0.9"/>
<line x1="198.9" y1="520.4" x2="198.9" y2="524.2" stroke="#2020a0" stroke-width="0.9"/>
<line x1="203.4" y1="520.4" x2="203.4" y2="524.2" stroke="#2020a0" stroke-width="0.9"/>
<line x1="217.5" y1="520.4" x2="217.5" y2="524.2" stroke="#2020a0" stroke-width="0.9"/>
<line x1="312.2" y1="410.9" x2="312.2" y2="414.7" stroke="#2020a0" stroke-width="0.9"/>
<line x1="314.5" y1="410.9" x2="314.5" y2="414.7" stroke="#2020a0" stroke-width="0.9"/>
<line x1="319.0" y1="413.9" x2="319.0" y2="417.7" stroke="#2020a0" stroke-width="0.9"/>
<line x1="323.7" y1="413.9" x2="323.7" y2="417.7" stroke="#2020a0" stroke-width="0.9"/>
<line x1="328.3" y1="413.9" x2="328.3" y2="417.7" stroke="#2020a0" stroke-width="0.9"/>
<line x1="367.5" y1="444.3" x2="367.5" y2="448.1" stroke="#2020a0" stroke-width="0.9"/>
<line x1="374.5" y1="444.3" x2="374.5" y2="448.1" stroke="#2020a0" stroke-width="0.9"/>
<line x1="376.8" y1="444.3" x2="376.8" y2="448.1" stroke="#2020a0" stroke-width="0.9"/>
<line x1="397.5" y1="464.0" x2="397.5" y2="467.8" stroke="#2020a0" stroke-width="0.9"/>
<line x1="402.2" y1="464.0" x2="402.2" y2="467.8" stroke="#2020a0" stroke-width="0.9"/>
<line x1="406.8" y1="464.0" x2="406.8" y2="467.8" stroke="#2020a0" stroke-width="0.9"/>
<line x1="421.9" y1="470.0" x2="421.9" y2="473.8" stroke="#2020a0" stroke-width="0.9"/>
<line x1="436.9" y1="470.0" x2="436.9" y2="473.8" stroke="#2020a0" stroke-width="0.9"/>
<line x1="449.6" y1="470.0" x2="449.6" y2="473.8" stroke="#2020a0" stroke-width="0.9"/>
<line x1="458.8" y1="470.0" x2="458.8" y2="473.8" stroke="#2020a0" stroke-width="0.9"/>
<line x1="462.3" y1="470.0" x2="462.3" y2="473.8" stroke="#2020a0" stroke-width="0.9"/>
<line x1="466.9" y1="470.0" x2="466.9" y2="473.8" stroke="#2020a0" stroke-width="0.9"/>
<line x1="469.2" y1="470.0" x2="469.2" y2="473.8" stroke="#2020a0" stroke-width="0.9"/>
<line x1="480.8" y1="470.0" x2="480.8" y2="473.8" stroke="#2020a0" stroke-width="0.9"/>
<line x1="340.0" y1="413.9" x2="340.0" y2="417.7" stroke="#2020a0" stroke-width="0.9"/>
<line x1="351.4" y1="424.3" x2="351.4" y2="428.1" stroke="#2020a0" stroke-width="0.9"/>
<line x1="356.0" y1="424.3" x2="356.0" y2="428.1" stroke="#2020a0" stroke-width="0.9"/>
<line x1="365.2" y1="429.3" x2="365.2" y2="433.1" stroke="#2020a0" stroke-width="0.9"/>
<line x1="372.2" y1="429.3" x2="372.2" y2="433.1" stroke="#2020a0" stroke-width="0.9"/>
<line x1="375.6" y1="429.3" x2="375.6" y2="433.1" stroke="#2020a0" stroke-width="0.9"/>
<line x1="400.0" y1="444.8" x2="400.0" y2="448.6" stroke="#2020a0" stroke-width="0.9"/>
<line x1="439.2" y1="455.0" x2="439.2" y2="458.8" stroke="#2020a0" stroke-width="0.9"/>
<line x1="449.6" y1="455.0" x2="449.6" y2="458.8" stroke="#2020a0" stroke-width="0.9"/>
<line x1="458.8" y1="455.0" x2="458.8" y2="458.8" stroke="#2020a0" stroke-width="0.9"/>
<line x1="462.3" y1="455.0" x2="462.3" y2="458.8" stroke="#2020a0" stroke-width="0.9"/>
<line x1="466.9" y1="455.0" x2="466.9" y2="458.8" stroke="#2020a0" stroke-width="0.9"/>
<line x1="479.6" y1="455.0" x2="479.6" y2="458.8" stroke="#2020a0" stroke-width="0.9"/>
<rect x="30.5" y="107.4" width="103.0" height="40.79999999999998" fill="#fff" stroke="#a0a0a0" stroke-width="0.8"/>
<line x1="33" y1="112.7" x2="51.5" y2="112.7" stroke="#2020a0" stroke-width="1.6"/>
<text x="53.64" y="116.20" font-size="6.3" font-weight="bold" word-spacing="-0.00" letter-spacing="-0.15" class="lg">Overall,  n= 102</text>
<line x1="33" y1="120.3" x2="48.2" y2="120.3" stroke="#2020a0" stroke-width="1.6" stroke-dasharray="3.4,2.5"/>
<text x="53.64" y="123.50" font-size="6.3" font-weight="bold" word-spacing="-0.00" letter-spacing="-0.12" class="lg">Overall,  n= 73</text>
<line x1="33" y1="127.7" x2="51.5" y2="127.7" stroke="#d02430" stroke-width="1.6"/>
<text x="53.48" y="130.90" font-size="6.3" font-weight="bold" word-spacing="-0.00" letter-spacing="-0.08" class="lg">Progression<tspan letter-spacing="-2.08">−</tspan>−free,  n= 102</text>
<line x1="33" y1="135.3" x2="48.2" y2="135.3" stroke="#d02430" stroke-width="1.6" stroke-dasharray="3.4,2.5"/>
<text x="53.48" y="138.50" font-size="6.3" font-weight="bold" word-spacing="-0.00" letter-spacing="-0.08" class="lg">Progression<tspan letter-spacing="-2.08">−</tspan>−free,  n= 73</text>
<line x1="35.0" y1="139.7" x2="35.0" y2="145.7" stroke="#b8b8c0" stroke-width="1"/>
<line x1="42.8" y1="139.7" x2="42.8" y2="145.7" stroke="#b8b8c0" stroke-width="1"/>
<line x1="50.5" y1="139.7" x2="50.5" y2="145.7" stroke="#b8b8c0" stroke-width="1"/>
<text x="53.64" y="145.60" font-size="6.3" font-weight="bold" letter-spacing="-0.21" class="lg">Censored</text>
<rect x="399.5" y="6.4" width="117.10000000000002" height="33.4" fill="#fff" stroke="#a0a0a0" stroke-width="0.8"/>
<line x1="401" y1="11.8" x2="419.5" y2="11.8" stroke="#2020a0" stroke-width="1.6"/>
<text x="422.08" y="15.10" font-size="6.3" font-weight="bold" word-spacing="-0.00" letter-spacing="-0.16" class="lg">Relapse,  n= 102</text>
<line x1="401" y1="19.0" x2="416.2" y2="19.0" stroke="#2020a0" stroke-width="1.6" stroke-dasharray="3.4,2.5"/>
<text x="422.08" y="21.90" font-size="6.3" font-weight="bold" word-spacing="-0.00" letter-spacing="-0.13" class="lg">Relapse,  n= 73</text>
<line x1="401" y1="26.8" x2="419.5" y2="26.8" stroke="#d02430" stroke-width="1.6"/>
<text x="422.08" y="29.90" font-size="6.3" font-weight="bold" word-spacing="-0.00" letter-spacing="-0.07" class="lg">Non<tspan letter-spacing="-2.08">−</tspan>−relapse mortality,  n= 102</text>
<line x1="401" y1="34.5" x2="416.2" y2="34.5" stroke="#d02430" stroke-width="1.6" stroke-dasharray="3.4,2.5"/>
<text x="422.08" y="37.40" font-size="6.3" font-weight="bold" word-spacing="-0.00" letter-spacing="-0.05" class="lg">Non<tspan letter-spacing="-2.08">−</tspan>−relapse mortality,  n= 73</text>
<rect x="173.9" y="201.8" width="75.79999999999998" height="32.5" fill="#fff" stroke="#a0a0a0" stroke-width="0.8"/>
<line x1="176.3" y1="207.0" x2="194.3" y2="207.0" stroke="#2020a0" stroke-width="1.6"/>
<text x="196.45" y="210.10" font-size="6.3" font-weight="bold" word-spacing="0.00" letter-spacing="0.09" class="lg">Auto CR+VGPR</text>
<line x1="176.3" y1="214.6" x2="194.3" y2="214.6" stroke="#d02430" stroke-width="1.6"/>
<text x="196.45" y="217.50" font-size="6.3" font-weight="bold" word-spacing="0.00" letter-spacing="0.00" class="lg">Auto PR</text>
<line x1="176.3" y1="222.3" x2="194.3" y2="222.3" stroke="#55e2e2" stroke-width="1.6"/>
<text x="196.45" y="225.10" font-size="6.3" font-weight="bold" word-spacing="0.00" letter-spacing="0.45" class="lg">Auto &lt; PR</text>
<line x1="178.3" y1="226.4" x2="178.3" y2="232.4" stroke="#b8b8c0" stroke-width="1"/>
<line x1="185.8" y1="226.4" x2="185.8" y2="232.4" stroke="#b8b8c0" stroke-width="1"/>
<line x1="193.3" y1="226.4" x2="193.3" y2="232.4" stroke="#b8b8c0" stroke-width="1"/>
<text x="196.34" y="232.50" font-size="6.3" font-weight="bold" letter-spacing="-0.18" class="lg">Censored</text>
<rect x="443.4" y="202.3" width="73.39999999999998" height="32.29999999999998" fill="#fff" stroke="#a0a0a0" stroke-width="0.8"/>
<line x1="445.8" y1="207.2" x2="463.8" y2="207.2" stroke="#2020a0" stroke-width="1.6"/>
<text x="466.35" y="210.50" font-size="6.3" font-weight="bold" word-spacing="0.00" letter-spacing="0.14" class="lg">Allo CR+VGPR</text>
<line x1="445.8" y1="214.8" x2="463.8" y2="214.8" stroke="#d02430" stroke-width="1.6"/>
<text x="466.35" y="217.80" font-size="6.3" font-weight="bold" word-spacing="-0.00" letter-spacing="-0.00" class="lg">Allo PR</text>
<line x1="445.8" y1="222.4" x2="463.8" y2="222.4" stroke="#55e2e2" stroke-width="1.6"/>
<text x="466.35" y="225.40" font-size="6.3" font-weight="bold" word-spacing="0.00" letter-spacing="0.42" class="lg">Allo &lt; PR</text>
<line x1="447.8" y1="226.6" x2="447.8" y2="232.6" stroke="#b8b8c0" stroke-width="1"/>
<line x1="455.3" y1="226.6" x2="455.3" y2="232.6" stroke="#b8b8c0" stroke-width="1"/>
<line x1="462.8" y1="226.6" x2="462.8" y2="232.6" stroke="#b8b8c0" stroke-width="1"/>
<text x="466.24" y="232.80" font-size="6.3" font-weight="bold" letter-spacing="-0.20" class="lg">Censored</text>
<rect x="193.5" y="396.2" width="56.5" height="26.400000000000034" fill="#fff" stroke="#a0a0a0" stroke-width="0.8"/>
<line x1="196.2" y1="401.8" x2="214" y2="401.8" stroke="#d02430" stroke-width="1.6"/>
<text x="216.38" y="405.00" font-size="6.3" font-weight="bold" word-spacing="0.00" letter-spacing="0.40" class="lg">KPS 90+</text>
<line x1="196.2" y1="409.0" x2="214" y2="409.0" stroke="#2020a0" stroke-width="1.6"/>
<text x="216.38" y="412.30" font-size="6.3" font-weight="bold" word-spacing="0.00" letter-spacing="0.55" class="lg">KPS &lt;90</text>
<line x1="198.2" y1="413.6" x2="198.2" y2="419.6" stroke="#b8b8c0" stroke-width="1"/>
<line x1="205.6" y1="413.6" x2="205.6" y2="419.6" stroke="#b8b8c0" stroke-width="1"/>
<line x1="213.0" y1="413.6" x2="213.0" y2="419.6" stroke="#b8b8c0" stroke-width="1"/>
<text x="216.54" y="419.70" font-size="6.3" font-weight="bold" letter-spacing="-0.18" class="lg">Censored</text>
<rect x="445.3" y="396.3" width="71.49999999999994" height="26.19999999999999" fill="#fff" stroke="#a0a0a0" stroke-width="0.8"/>
<line x1="447.7" y1="401.4" x2="466.3" y2="401.4" stroke="#2020a0" stroke-width="1.6"/>
<text x="468.74" y="405.30" font-size="6.3" font-weight="bold" word-spacing="-0.00" letter-spacing="-0.11" class="lg">Overall,  n= 51</text>
<line x1="447.7" y1="409.0" x2="462.9" y2="409.0" stroke="#2020a0" stroke-width="1.6" stroke-dasharray="3.4,2.5"/>
<text x="468.74" y="412.30" font-size="6.3" font-weight="bold" word-spacing="-0.00" letter-spacing="-0.05" class="lg">Overall,  n= 36</text>
<line x1="449.7" y1="413.4" x2="449.7" y2="419.4" stroke="#b8b8c0" stroke-width="1"/>
<line x1="457.5" y1="413.4" x2="457.5" y2="419.4" stroke="#b8b8c0" stroke-width="1"/>
<line x1="465.3" y1="413.4" x2="465.3" y2="419.4" stroke="#b8b8c0" stroke-width="1"/>
<text x="468.74" y="419.30" font-size="6.3" font-weight="bold" letter-spacing="-0.28" class="lg">Censored</text>
</svg>
</body></html>
